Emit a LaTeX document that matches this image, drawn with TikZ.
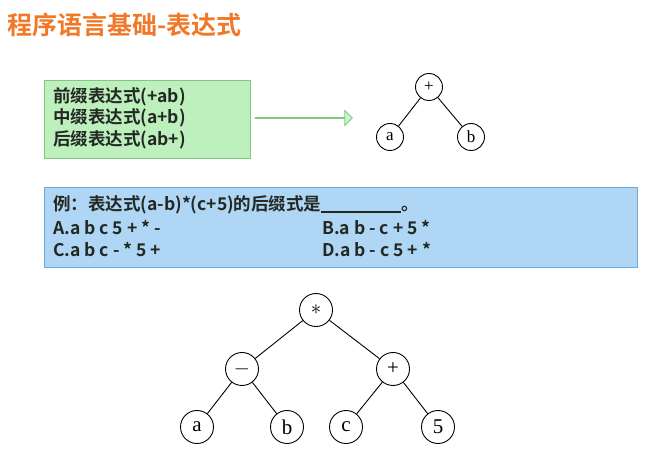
\documentclass[tikz,border=0pt]{standalone}
\usepackage{fontspec}
\setmainfont{Noto Sans CJK SC}
\newfontfamily\cjkb{Noto Sans CJK SC}[BoldFont={* Bold}]
\newfontfamily\serifnum{Liberation Serif}
\usetikzlibrary{shapes.arrows}
\definecolor{ttl}{RGB}{240,120,40}
\definecolor{gfill}{RGB}{190,240,190}
\definecolor{gline}{RGB}{130,200,130}
\definecolor{bfill}{RGB}{175,215,245}
\definecolor{bline}{RGB}{110,170,215}
\definecolor{txt}{RGB}{35,40,35}
\tikzset{
  tn/.style={circle,draw,line width=0.9pt,minimum size=27pt,inner sep=0pt,font=\serifnum\fontsize{17}{17}\selectfont},
  bn/.style={circle,draw,line width=0.9pt,minimum size=33pt,inner sep=0pt,font=\serifnum\fontsize{21}{21}\selectfont},
  ed/.style={line width=0.9pt},
  bt/.style={font=\cjkb\bfseries\fontsize{17.5}{17.5}\selectfont,text=txt,anchor=west,inner sep=0pt}
}
\begin{document}
\begin{tikzpicture}[x=1pt,y=-1pt]
\useasboundingbox (0,0) rectangle (662,454);
\node[anchor=west,inner sep=0pt,text=ttl,font=\cjkb\bfseries\fontsize{25}{25}\selectfont] (title) at (7,25) {程序语言基础-表达式};
% green box
\node[draw=gline,fill=gfill,minimum width=206pt,minimum height=78pt,anchor=north west,inner sep=0pt,line width=0.8pt] (gbox) at (44,80) {};
\node[bt] (g1) at (53,97) {前缀表达式(+ab)};
\node[bt] (g2) at (53,118) {中缀表达式(a+b)};
\node[bt] (g3) at (53,140) {后缀表达式(ab+)};
\node[single arrow,draw=gline,fill=gfill!80,minimum height=97pt,minimum width=14pt,single arrow head extend=7pt,inner sep=0pt,line width=0.8pt] (arr) at (303.5,118) {};
% top tree
\node[tn] (p) at (429,87) {+};
\node[tn] (a1) at (390,137) {a};
\node[tn] (b1) at (471,137) {b};
\draw[ed] (p) -- (a1); \draw[ed] (p) -- (b1);
% blue box
\node[draw=bline,fill=bfill,minimum width=593pt,minimum height=80pt,anchor=north west,inner sep=0pt,line width=0.8pt] (bbox) at (44,187) {};
\node[bt] (q) at (53,205) {例：表达式(a-b)*(c+5)的后缀式是\rule[-2pt]{80pt}{1.2pt}。};
\node[bt] (oa) at (53,228) {A.a b c 5 + * -};
\node[bt] (ob) at (322,228) {B.a b - c + 5 *};
\node[bt] (oc) at (53,250) {C.a b c - * 5 +};
\node[bt] (od) at (322,250) {D.a b - c 5 + *};
% bottom tree
\node[bn] (m) at (316,310) {$\ast$};
\node[bn] (mi) at (242,369) {$-$};
\node[bn] (pl) at (393,369) {+};
\node[bn] (a) at (197,427) {a};
\node[bn] (b) at (287,427) {b};
\node[bn] (c) at (346,427) {c};
\node[bn] (f) at (438,427) {5};
\draw[ed] (m) -- (mi); \draw[ed] (m) -- (pl);
\draw[ed] (mi) -- (a); \draw[ed] (mi) -- (b);
\draw[ed] (pl) -- (c); \draw[ed] (pl) -- (f);
\end{tikzpicture}
\end{document}
